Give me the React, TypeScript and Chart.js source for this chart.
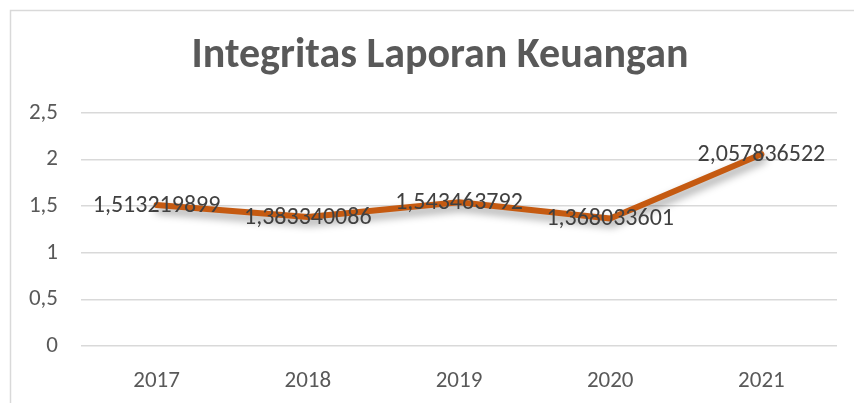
import React, { useEffect, useRef } from "react";
import { Chart, registerables } from "chart.js";

Chart.register(...registerables);

const categories = ["2017", "2018", "2019", "2020", "2021"];
const values = [1.513219899, 1.383340086, 1.543463792, 1.368033601, 2.057836522];
const valueLabels = ["1,513219899", "1,383340086", "1,543463792", "1,368033601", "2,057836522"];
const titleText = "Integritas Laporan Keuangan";

const FONT = "Carlito, Calibri, 'Open Sans', sans-serif";

export default function App() {
  const ref = useRef<HTMLCanvasElement | null>(null);

  useEffect(() => {
    document.body.style.margin = "0";
    const canvas = ref.current;
    if (!canvas) return;

    const framePlugin = {
      id: "frame",
      beforeDraw(chart: any) {
        const ctx = chart.ctx;
        ctx.save();
        ctx.fillStyle = "#ffffff";
        ctx.fillRect(0, 0, chart.width, chart.height);
        ctx.strokeStyle = "#d9d9d9";
        ctx.lineWidth = 1.5;
        ctx.beginPath();
        ctx.moveTo(chart.width + 5, 10.5);
        ctx.lineTo(10.5, 10.5);
        ctx.lineTo(10.5, chart.height + 5);
        ctx.stroke();
        ctx.fillStyle = "#595959";
        ctx.font = `bold 42px ${FONT}`;
        ctx.textAlign = "center";
        ctx.textBaseline = "middle";
        ctx.fillText(titleText, 440, 56);
        ctx.restore();
      },
    };

    const shadowPlugin = {
      id: "lineShadow",
      beforeDatasetDraw(chart: any) {
        const ctx = chart.ctx;
        ctx.save();
        ctx.shadowColor = "rgba(0,0,0,0.4)";
        ctx.shadowBlur = 8;
        ctx.shadowOffsetX = 2;
        ctx.shadowOffsetY = 5;
      },
      afterDatasetDraw(chart: any) {
        chart.ctx.restore();
      },
    };

    const labelPlugin = {
      id: "valueLabels",
      afterDatasetsDraw(chart: any) {
        const ctx = chart.ctx;
        const meta = chart.getDatasetMeta(0);
        ctx.save();
        ctx.fillStyle = "#404040";
        ctx.font = `24px ${FONT}`;
        ctx.textAlign = "center";
        ctx.textBaseline = "middle";
        meta.data.forEach((pt: any, i: number) => {
          ctx.fillText(valueLabels[i], pt.x, pt.y + 1);
        });
        ctx.restore();
      },
    };

    const chart = new Chart(canvas, {
      type: "line",
      data: {
        labels: categories,
        datasets: [
          {
            data: values,
            borderColor: "#C55A11",
            borderWidth: 6,
            pointRadius: 0,
            tension: 0,
            fill: false,
            borderCapStyle: "round",
            borderJoinStyle: "round",
          },
        ],
      },
      options: {
        responsive: false,
        animation: false,
        layout: { padding: { top: 113, right: 17, left: 0, bottom: 0 } },
        plugins: {
          legend: { display: false },
          title: { display: false },
          tooltip: { enabled: false },
        },
        scales: {
          x: {
            offset: true,
            grid: { display: false },
            border: { display: false },
            ticks: {
              color: "#595959",
              font: { family: FONT, size: 23 },
              padding: 13,
            },
            afterFit(scale: any) {
              scale.height = 57;
            },
          },
          y: {
            min: 0,
            max: 2.5,
            grid: { color: "#d9d9d9", lineWidth: 1.5, drawTicks: false },
            border: { display: false },
            ticks: {
              stepSize: 0.5,
              color: "#595959",
              font: { family: FONT, size: 23 },
              padding: 23,
              callback: (v: any) => String(v).replace(".", ","),
            },
            afterFit(scale: any) {
              scale.width = 81;
            },
          },
        },
      },
      plugins: [framePlugin, shadowPlugin, labelPlugin],
    });

    return () => chart.destroy();
  }, []);

  return (
    <div style={{ width: 854, height: 403 }}>
      <canvas ref={ref} width={854} height={403} />
    </div>
  );
}
